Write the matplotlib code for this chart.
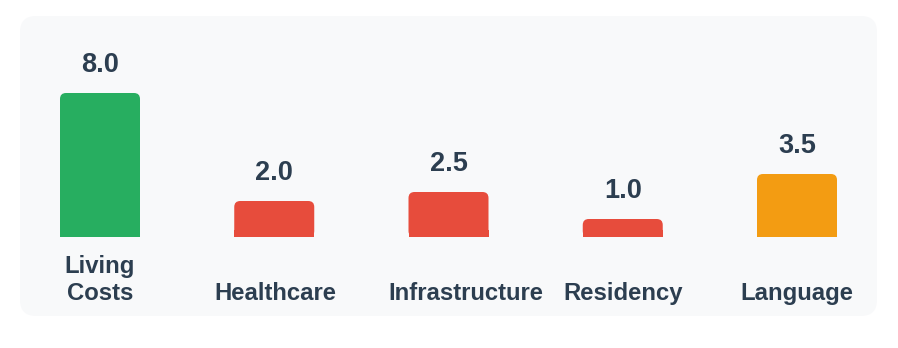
import matplotlib
matplotlib.use("Agg")
import matplotlib.pyplot as plt
from matplotlib.patches import FancyBboxPatch, Rectangle
from matplotlib.transforms import offset_copy

categories = ["Living\nCosts", "Healthcare", "Infrastructure", "Residency", "Language"]
values = [8.0, 2.0, 2.5, 1.0, 3.5]
colors = ["#27ae60", "#e74c3c", "#e74c3c", "#e74c3c", "#f39c12"]

W, H, DPI = 898, 348, 100
fig = plt.figure(figsize=(W / DPI, H / DPI), dpi=DPI)
fig.patch.set_facecolor("white")

# card area in pixels (left, top, right, bottom)
px0, py0, px1, py1 = 20, 16, 877, 316
cw, ch = px1 - px0, py1 - py0
ax = fig.add_axes([px0 / W, 1 - py1 / H, cw / W, ch / H])
ax.set_facecolor("none")

# rounded card behind the chart
card_r = 16
ax.add_patch(FancyBboxPatch((0, 0), 1, 1,
                            boxstyle="round,pad=0,rounding_size=%f" % (card_r / cw),
                            mutation_aspect=cw / ch,
                            transform=ax.transAxes, facecolor="#f8f9fa",
                            edgecolor="none", zorder=0, clip_on=False))

step_px = 174.25       # horizontal spacing between bar centres
unit_px = 18.0         # pixels per value unit
first_px = 100         # centre of the first bar
base_px = 237          # bar baseline
bar_w = 80 / step_px

ax.set_xlim((px0 - first_px) / step_px, (px1 - first_px) / step_px)
ax.set_ylim(-(py1 - base_px) / unit_px, (base_px - py0) / unit_px)
ax.axis("off")

x = list(range(len(categories)))
bars = ax.bar(x, values, width=bar_w, color=colors)

radius_px = 6
rx = radius_px / step_px
ry = radius_px / unit_px
for b, c in zip(bars, colors):
    b.set_visible(False)
    bx, by = b.get_x(), b.get_y()
    bw, bh = b.get_width(), b.get_height()
    ax.add_patch(FancyBboxPatch((bx, by), bw, bh,
                                boxstyle="round,pad=0,rounding_size=%f" % rx,
                                mutation_aspect=ry / rx,
                                facecolor=c, edgecolor="none", zorder=2))
    # square off the bottom corners
    ax.add_patch(Rectangle((bx, by), bw, min(bh / 2, ry * 1.2),
                           facecolor=c, edgecolor="none", zorder=2))

text_color = "#2c3e50"
font = "Liberation Sans"

for xi, v in zip(x, values):
    ax.annotate(f"{v:.1f}", (xi, v), xytext=(0, 28 * 72 / DPI),
                textcoords="offset points", ha="center", va="center",
                fontsize=19.5, fontweight="bold", color=text_color,
                family=font)

# category labels sit in a fixed-width slot under each bar; text wider
# than the slot starts at the slot's left edge and runs over to the right
slot_px = 120
label_y = -(305 - base_px) / unit_px
renderer = fig.canvas.get_renderer()
for xi, lab in zip(x, categories):
    t = ax.text(xi, label_y, lab, ha="center", va="bottom", fontsize=17.2,
                fontweight="bold", color=text_color, family=font,
                linespacing=1.2)
    tw = t.get_window_extent(renderer).width
    if tw > slot_px:
        shift = (tw - slot_px) / 2
        t.set_transform(offset_copy(ax.transData, fig=fig,
                                    x=shift, y=0, units="dots"))

fig.savefig("out.png", dpi=DPI, facecolor="white")
